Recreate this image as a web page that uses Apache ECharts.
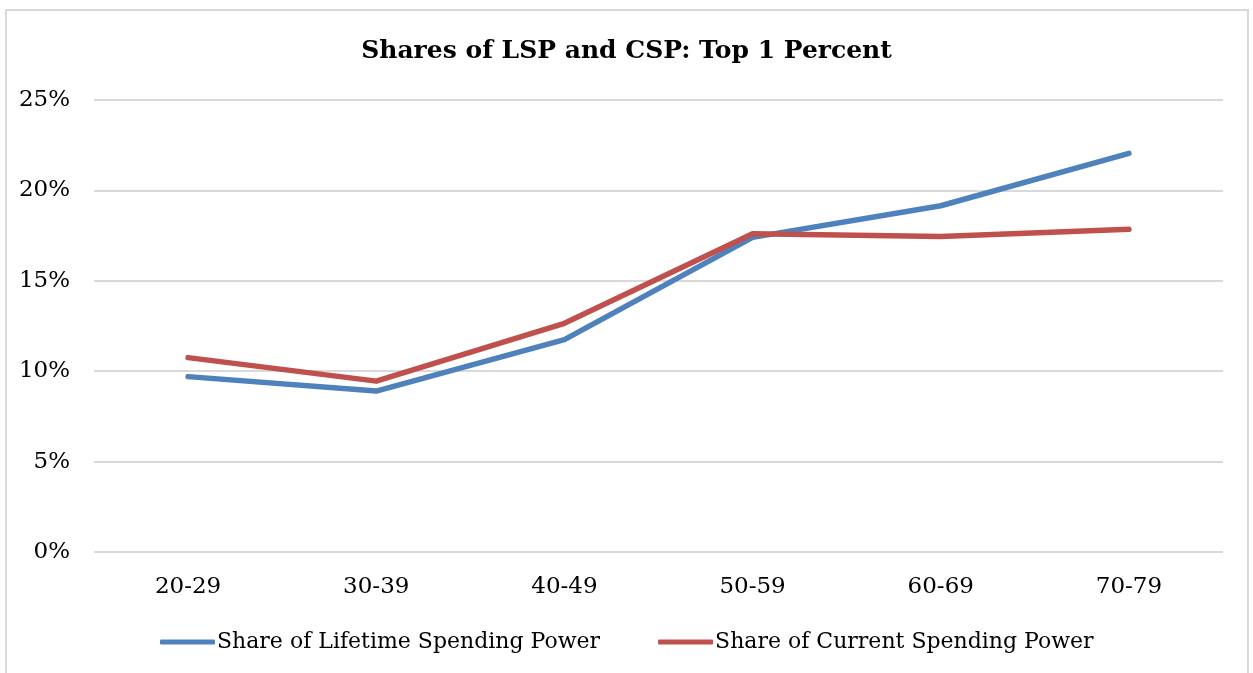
<!DOCTYPE html>
<html lang="en">
<head>
    <meta charset="UTF-8">
    <title>Shares of LSP and CSP: Top 1 Percent</title>
    <script src="https://cdn.jsdelivr.net/npm/echarts@6/dist/echarts.min.js"></script>
    <style>
        body { margin: 0; background: #fff; }
        #frame { position: absolute; left: 5px; top: 9px; width: 1244px; height: 680px; border: 2px solid #d9d9d9; box-sizing: border-box; }
        #chart { position: absolute; left: 0; top: 0; width: 1253px; height: 673px; }
    </style>
</head>
<body>
    <div id="frame"></div>
    <div id="chart"></div>

    <script>
        // Datos
        var ageGroups = ['20-29', '30-39', '40-49', '50-59', '60-69', '70-79'];
        var lifetimeShare = [9.7, 8.9, 11.75, 17.4, 19.15, 22.05];
        var currentShare = [10.75, 9.45, 12.65, 17.6, 17.45, 17.85];

        var serif = 'DejaVu Serif';
        var chart = echarts.init(document.getElementById('chart'));

        var option = {
            animation: false,
            title: {
                text: 'Shares of LSP and CSP: Top 1 Percent',
                left: 'center',
                top: 34,
                textStyle: { fontFamily: serif, fontWeight: 'bold', fontSize: 25, color: '#000' }
            },
            legend: {
                bottom: 15,
                left: 155,
                itemWidth: 55,
                itemHeight: 5,
                itemGap: 58,
                icon: 'roundRect',
                textStyle: { fontFamily: serif, fontSize: 22, color: '#000', padding: [0, 0, 0, -3] },
                data: ['Share of Lifetime Spending Power', 'Share of Current Spending Power']
            },
            grid: { left: 94, right: 30, top: 100, bottom: 121 },
            xAxis: {
                type: 'category',
                data: ageGroups,
                axisLine: { show: false },
                axisTick: { show: false },
                axisLabel: { fontFamily: serif, fontSize: 23, color: '#000', margin: 24 }
            },
            yAxis: {
                type: 'value',
                min: 0,
                max: 25,
                interval: 5,
                axisLabel: { formatter: '{value}%', fontFamily: serif, fontSize: 23, color: '#000', margin: 24 },
                splitLine: { lineStyle: { color: '#d9d9d9', width: 2 } }
            },
            series: [
                {
                    name: 'Share of Lifetime Spending Power',
                    type: 'line',
                    data: lifetimeShare,
                    symbol: 'none',
                    color: '#4f81bd',
                    lineStyle: { width: 5.5, cap: 'round', join: 'round' }
                },
                {
                    name: 'Share of Current Spending Power',
                    type: 'line',
                    data: currentShare,
                    symbol: 'none',
                    color: '#c0504d',
                    lineStyle: { width: 5.5, cap: 'round', join: 'round' }
                }
            ]
        };

        chart.setOption(option);
    </script>
</body>
</html>
